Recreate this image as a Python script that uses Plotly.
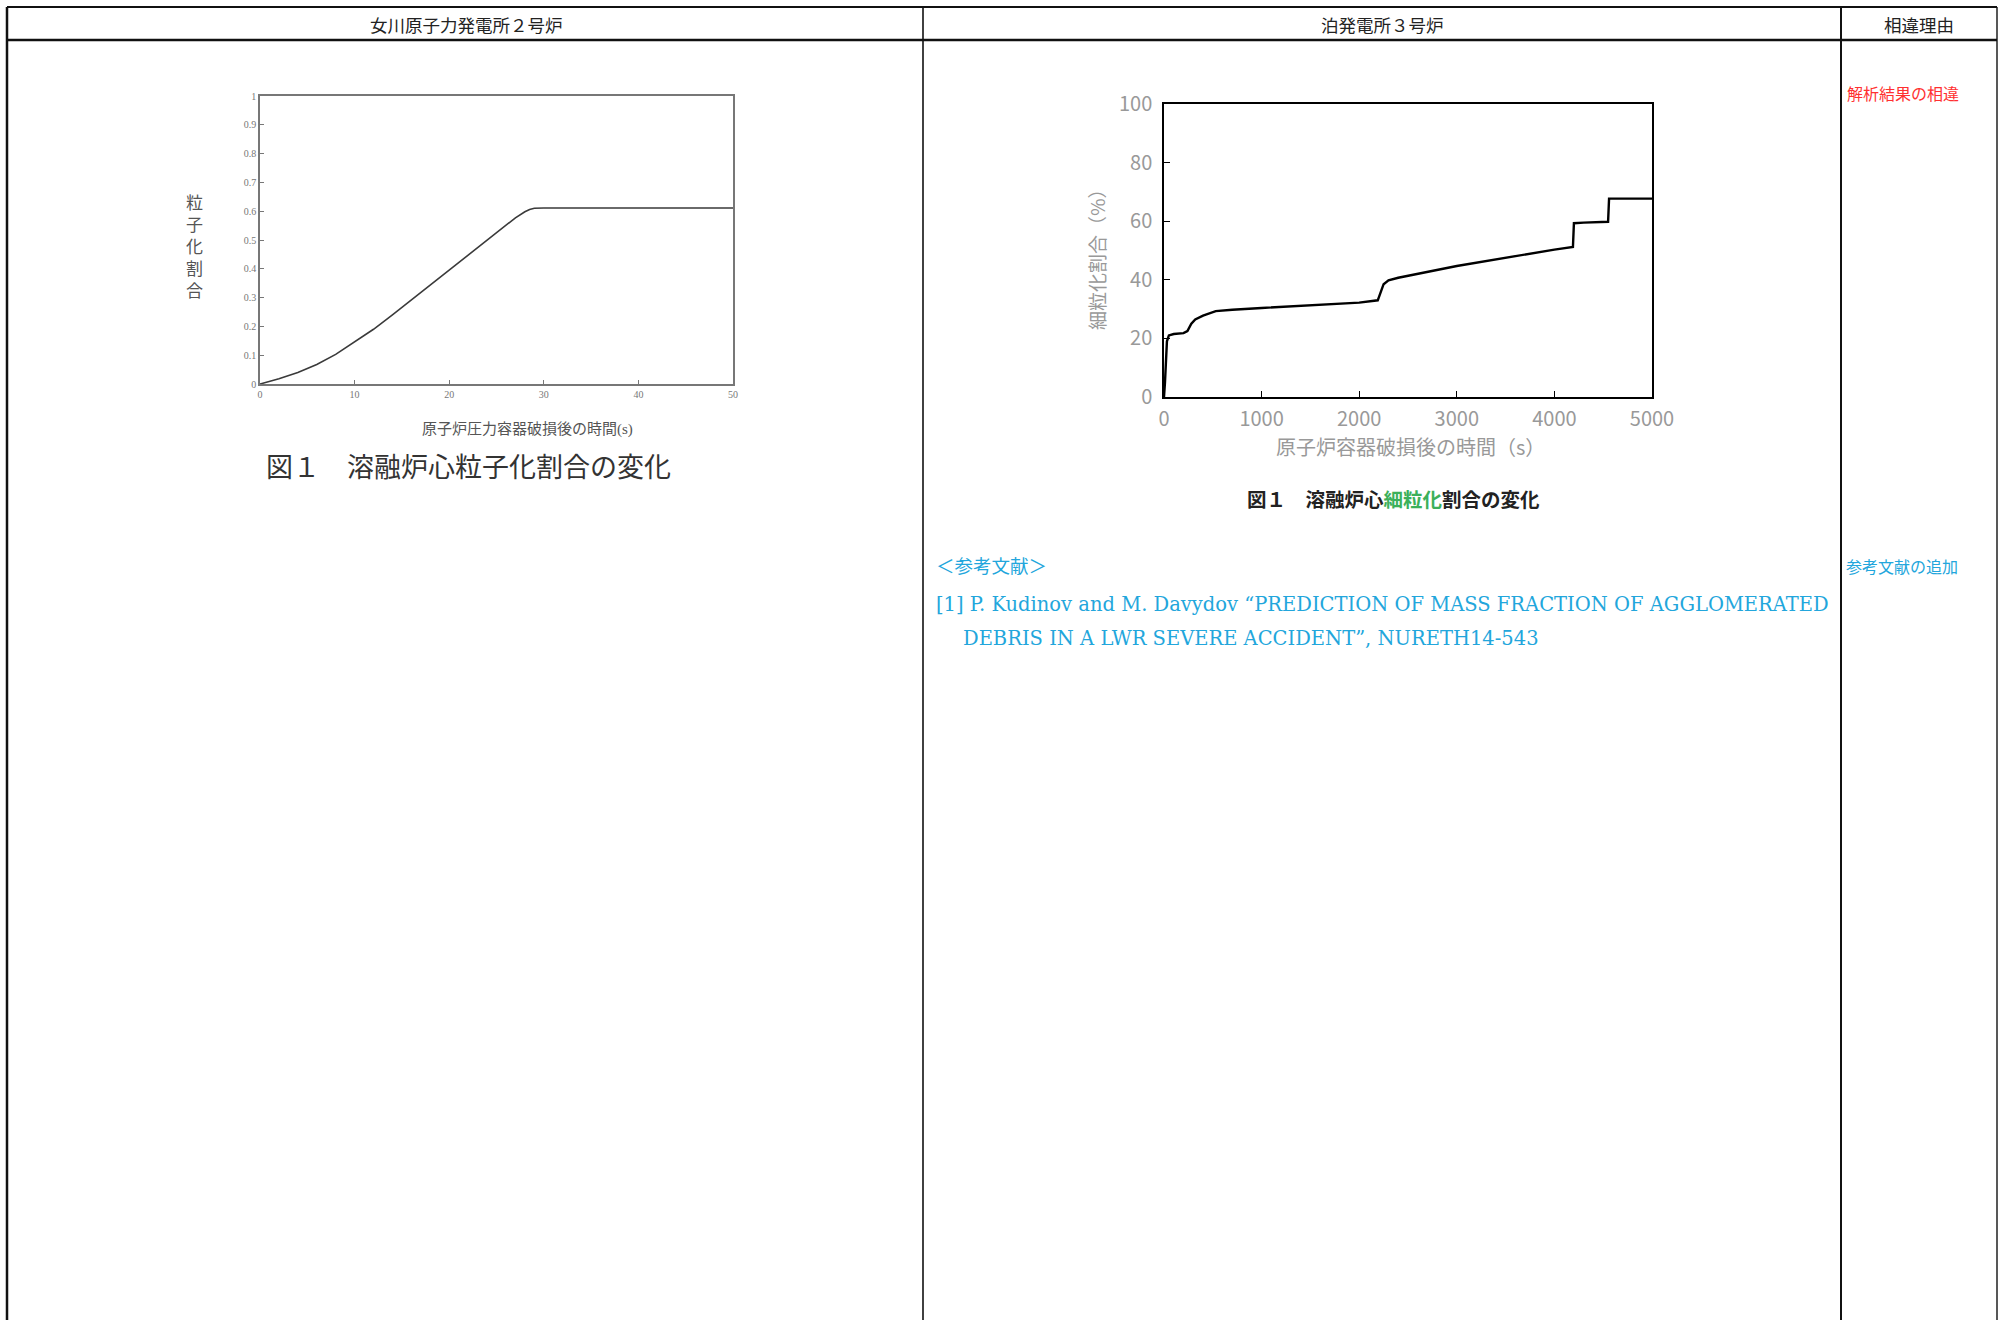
import plotly.graph_objects as go

W, H = 2004, 1320

# ---- data: left chart (女川) ----
onagawa_time_s = [0, 2, 4, 6, 8, 10, 12, 14, 16, 18, 20, 22, 24, 26, 27, 28, 28.5, 29, 30, 50]
onagawa_fraction = [0, 0.018, 0.040, 0.068, 0.103, 0.145, 0.190, 0.240, 0.292, 0.345,
                    0.398, 0.450, 0.500, 0.552, 0.577, 0.598, 0.606, 0.610, 0.611, 0.611]
onagawa_yticks = [0, 0.1, 0.2, 0.3, 0.4, 0.5, 0.6, 0.7, 0.8, 0.9, 1]
onagawa_yticklabels = ["0", "0.1", "0.2", "0.3", "0.4", "0.5", "0.6", "0.7", "0.8", "0.9", "1"]
onagawa_xticks = [0, 10, 20, 30, 40, 50]

# ---- data: right chart (泊) ----
tomari_time_s = [0, 10, 30, 50, 100, 200, 240, 280, 320, 400, 530, 700, 1000, 1500, 2000,
                 2190, 2210, 2250, 2300, 2400, 3000, 3500, 4000, 4190, 4200, 4300, 4550, 4560, 5000]
tomari_percent = [0, 5, 19, 21, 21.5, 21.8, 22.5, 25, 26.5, 27.8, 29.3, 29.8, 30.4, 31.3, 32.2,
                  33, 35, 38.5, 39.8, 40.7, 44.7, 47.6, 50.3, 51.2, 59.3, 59.5, 59.8, 67.7, 67.7]
tomari_yticks = [0, 20, 40, 60, 80, 100]
tomari_xticks = [0, 1000, 2000, 3000, 4000, 5000]

# headers / texts
header_left = "女川原子力発電所２号炉"
header_mid = "泊発電所３号炉"
header_right = "相違理由"


def X(px):
    return px / W


def Y(py):
    return 1 - py / H


fig = go.Figure()

fig.add_trace(go.Scatter(x=onagawa_time_s, y=onagawa_fraction, mode="lines",
                         line=dict(color="#3a3a3a", width=1.6), xaxis="x", yaxis="y",
                         showlegend=False, hoverinfo="skip"))
fig.add_trace(go.Scatter(x=tomari_time_s, y=tomari_percent, mode="lines",
                         line=dict(color="#000000", width=2.4), xaxis="x2", yaxis="y2",
                         showlegend=False, hoverinfo="skip"))

serif = "DejaVu Serif, Liberation Serif, Noto Sans CJK JP"
lserif = "Liberation Serif, DejaVu Serif, Noto Sans CJK JP"
sans = "Noto Sans CJK JP, Noto Sans, sans-serif"

fig.update_layout(
    width=W, height=H,
    margin=dict(l=0, r=0, t=0, b=0, pad=0, autoexpand=False),
    paper_bgcolor="white", plot_bgcolor="white",
    xaxis=dict(domain=[X(260), X(733)], range=[0, 50], tickvals=onagawa_xticks,
               ticks="inside", ticklen=4, tickcolor="#777", showgrid=False, zeroline=False,
               showline=True, linecolor="#777", linewidth=1.5, mirror=True, automargin=False,
               tickfont=dict(family=lserif, size=10, color="#777"), anchor="y"),
    yaxis=dict(domain=[Y(384), Y(96)], range=[0, 1], tickvals=onagawa_yticks,
               ticktext=onagawa_yticklabels, automargin=False,
               ticks="inside", ticklen=4, tickcolor="#777", showgrid=False, zeroline=False,
               showline=True, linecolor="#777", linewidth=1.5, mirror=True,
               tickfont=dict(family=lserif, size=10, color="#777"), anchor="x"),
    xaxis2=dict(domain=[X(1164), X(1652)], range=[0, 5000], tickvals=tomari_xticks,
                ticks="inside", ticklen=6, tickcolor="#000", showgrid=False, zeroline=False,
                showline=True, linecolor="#000", linewidth=1.5, mirror=True, automargin=False,
                tickfont=dict(family=sans, size=20, color="#999"), anchor="y2",
                ticklabelstandoff=3),
    yaxis2=dict(domain=[Y(397), Y(104)], range=[0, 100], tickvals=tomari_yticks,
                ticks="inside", ticklen=6, tickcolor="#000", showgrid=False, zeroline=False,
                showline=True, linecolor="#000", linewidth=1.5, mirror=True, automargin=False,
                tickfont=dict(family=sans, size=20, color="#999"), anchor="x2",
                ticklabelstandoff=6),
)

# table lines
shapes = []
lc = "#111"
shapes.append(dict(type="line", xref="paper", yref="paper", x0=X(7), x1=X(1997), y0=Y(7), y1=Y(7),
                   line=dict(color=lc, width=2)))
shapes.append(dict(type="line", xref="paper", yref="paper", x0=X(7), x1=X(1997), y0=Y(40), y1=Y(40),
                   line=dict(color=lc, width=2.5)))
for xv, wv in [(7, 2.5), (923, 1.6), (1841, 2), (1997, 1.4)]:
    shapes.append(dict(type="line", xref="paper", yref="paper", x0=X(xv), x1=X(xv), y0=Y(7), y1=0,
                       line=dict(color=lc, width=wv)))
fig.update_layout(shapes=shapes)

ann = []


def text(s, x, y, size, color="#222", family=sans, xanchor="center", yanchor="middle", angle=0, align="center"):
    ann.append(dict(text=s, x=X(x), y=Y(y), xref="paper", yref="paper", showarrow=False,
                    xanchor=xanchor, yanchor=yanchor, textangle=angle, align=align,
                    font=dict(size=size, color=color, family=family)))


# headers
text(header_left, 466, 24, 17.5)
text(header_mid, 1382, 24, 17.5)
text(header_right, 1919, 24, 17.5)

# left chart texts
text("粒<br>子<br>化<br>割<br>合", 194, 248, 17, color="#555", family=lserif)
text("原子炉圧力容器破損後の時間(s)", 527, 430, 15, color="#555", family=lserif)
text("図１　溶融炉心粒子化割合の変化", 468, 468, 27, color="#333", family=lserif)

# right chart texts
text("細粒化割合（%）", 1097, 255, 19, color="#999", angle=-90)
text("原子炉容器破損後の時間（s）", 1410, 446, 20, color="#999")
text("<b>図１　溶融炉心<span style='color:#3cb05a'>細粒化</span>割合の変化</b>", 1393, 501, 19.5,
     color="#222", family=lserif)

cyan = "#22a6dc"
text("＜参考文献＞", 934, 565, 18.5, color=cyan, xanchor="left")
text("[1] P. Kudinov and M. Davydov \u201cPREDICTION OF MASS FRACTION OF AGGLOMERATED",
     934, 605, 19.5, color=cyan, family=serif, xanchor="left")
text("DEBRIS IN A LWR SEVERE ACCIDENT\u201d, NURETH14-543",
     961, 638, 19.5, color=cyan, family=serif, xanchor="left")

# reason column
text("解析結果の相違", 1845, 93, 16, color="#ff3030", xanchor="left")
text("参考文献の追加", 1844, 566, 16, color=cyan, xanchor="left")

fig.update_layout(annotations=ann)

fig.write_html("out.html", config={"displayModeBar": False},
               post_script="document.body.style.margin='0';document.body.style.padding='0';"
                           "document.body.style.overflow='hidden';")
